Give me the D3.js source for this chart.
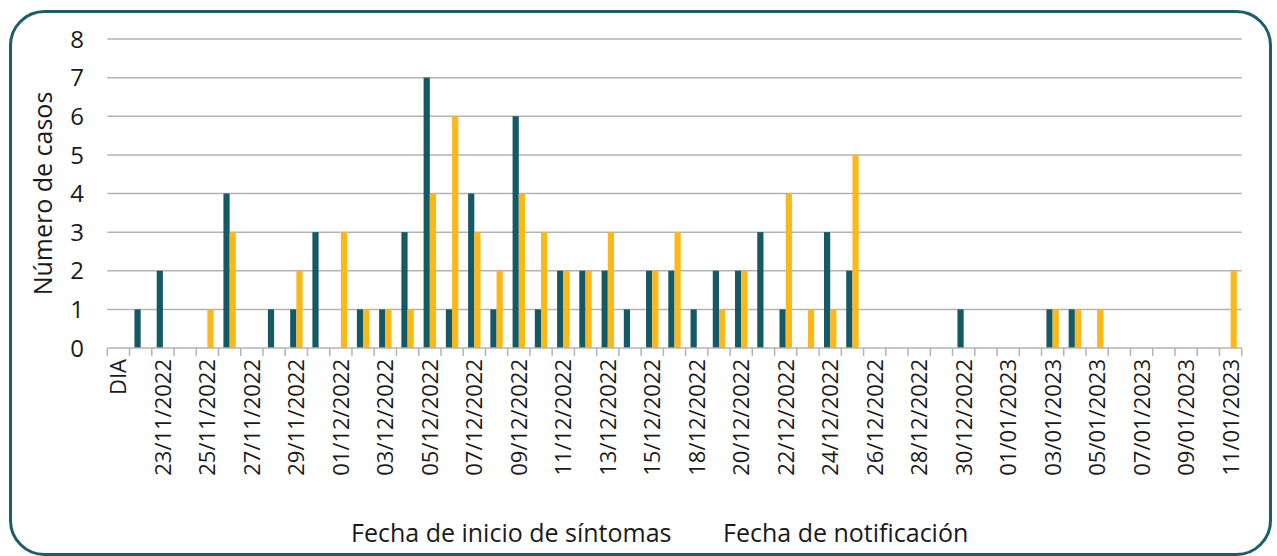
<!DOCTYPE html>
<html>
<head>
<meta charset="utf-8">
<script src="https://cdn.jsdelivr.net/npm/d3@7"></script>
<style>
  body { margin: 0; background: #fff; }
  svg { display: block; font-family: "Open Sans", sans-serif; }
</style>
</head>
<body>
<svg id="chart" width="1277" height="556"></svg>
<script>
// Categories (day of onset / notification)
var categories = ["DIA",
    "22/11/2022", "23/11/2022", "24/11/2022", "25/11/2022", "26/11/2022", "27/11/2022",
    "28/11/2022", "29/11/2022", "30/11/2022",
    "01/12/2022", "02/12/2022", "03/12/2022", "04/12/2022", "05/12/2022", "06/12/2022",
    "07/12/2022", "08/12/2022", "09/12/2022", "10/12/2022", "11/12/2022", "12/12/2022",
    "13/12/2022", "14/12/2022", "15/12/2022", "16/12/2022", "18/12/2022", "19/12/2022",
    "20/12/2022", "21/12/2022", "22/12/2022", "23/12/2022", "24/12/2022", "25/12/2022",
    "26/12/2022", "27/12/2022", "28/12/2022", "29/12/2022", "30/12/2022", "31/12/2022",
    "01/01/2023", "02/01/2023", "03/01/2023", "04/01/2023", "05/01/2023", "06/01/2023",
    "07/01/2023", "08/01/2023", "09/01/2023", "10/01/2023", "11/01/2023"];

var seriesNames = ["Fecha de inicio de síntomas", "Fecha de notificación"];

var inicioSintomas = [0,
    1, 2, 0, 0, 4, 0, 1, 1, 3,
    0, 1, 1, 3, 7, 1, 4, 1, 6, 1, 2, 2, 2, 1, 2, 2, 1, 2,
    2, 3, 1, 0, 3, 2, 0, 0, 0, 0, 1, 0,
    0, 0, 1, 1, 0, 0, 0, 0, 0, 0, 0];

var notificacion = [0,
    0, 0, 0, 1, 3, 0, 0, 2, 0,
    3, 1, 1, 1, 4, 6, 3, 2, 4, 3, 2, 2, 3, 0, 2, 3, 0, 1,
    2, 0, 4, 1, 1, 5, 0, 0, 0, 0, 0, 0,
    0, 0, 1, 1, 1, 0, 0, 0, 0, 0, 2];

var yTicks = [0, 1, 2, 3, 4, 5, 6, 7, 8];

var colors = ["#155964", "#fbb817"];

// Layout
var svg = d3.select("#chart");
var plotLeft = 107.3, plotRight = 1241.7, plotTop = 39, plotBottom = 348;

// Rounded frame
svg.append("rect")
    .attr("x", 10.5)
    .attr("y", 11.5)
    .attr("width", 1260)
    .attr("height", 543)
    .attr("rx", 34)
    .attr("fill", "none")
    .attr("stroke", "#1b5e6a")
    .attr("stroke-width", 3);

// Scales
var x = d3.scaleBand()
    .domain(categories)
    .range([plotLeft, plotRight])
    .paddingInner(0);

var x1 = d3.scaleBand()
    .domain(seriesNames)
    .range([0, x.bandwidth()])
    .paddingOuter(0.79);

var y = d3.scaleLinear()
    .domain([0, 8])
    .range([plotBottom, plotTop]);

// Gridlines
svg.append("g")
    .selectAll("line")
    .data(yTicks.filter(function (d) { return d > 0; }))
    .enter()
    .append("line")
    .attr("x1", plotLeft)
    .attr("x2", plotRight)
    .attr("y1", function (d) { return y(d); })
    .attr("y2", function (d) { return y(d); })
    .attr("stroke", "#b3b3b3")
    .attr("stroke-width", 1.5);

// Y tick labels
svg.append("g")
    .selectAll("text")
    .data(yTicks)
    .enter()
    .append("text")
    .attr("x", 84)
    .attr("y", function (d) { return y(d); })
    .attr("dy", "0.36em")
    .attr("text-anchor", "end")
    .attr("font-size", 24)
    .attr("fill", "#1a1a1a")
    .text(function (d) { return d; });

// Y axis title
svg.append("text")
    .attr("transform", "translate(52," + ((plotTop + plotBottom) / 2) + ") rotate(-90)")
    .attr("text-anchor", "middle")
    .attr("font-size", 25)
    .attr("fill", "#1a1a1a")
    .text("Número de casos");

// Bars
var rows = categories.map(function (c, i) {
    return { cat: c, values: [inicioSintomas[i], notificacion[i]] };
});

var groups = svg.append("g")
    .selectAll("g")
    .data(rows)
    .enter()
    .append("g")
    .attr("transform", function (d) { return "translate(" + x(d.cat) + ",0)"; });

groups.selectAll("rect")
    .data(function (d) {
        return d.values.map(function (v, k) { return { key: seriesNames[k], value: v, k: k }; })
            .filter(function (e) { return e.value > 0; });
    })
    .enter()
    .append("rect")
    .attr("x", function (d) { return x1(d.key); })
    .attr("width", x1.bandwidth())
    .attr("y", function (d) { return y(d.value); })
    .attr("height", function (d) { return y(0) - y(d.value); })
    .attr("fill", function (d) { return colors[d.k]; });

// X axis line and category boundary ticks
var axisG = svg.append("g");
axisG.append("line")
    .attr("x1", plotLeft)
    .attr("x2", plotRight)
    .attr("y1", plotBottom)
    .attr("y2", plotBottom)
    .attr("stroke", "#b3b3b3")
    .attr("stroke-width", 1.5);

var boundaries = categories.map(function (c) { return x(c); }).concat([x.range()[1]]);
axisG.selectAll("line.tick")
    .data(boundaries)
    .enter()
    .append("line")
    .attr("class", "tick")
    .attr("x1", function (d) { return d; })
    .attr("x2", function (d) { return d; })
    .attr("y1", plotBottom)
    .attr("y2", plotBottom + 8)
    .attr("stroke", "#b3b3b3")
    .attr("stroke-width", 1.5);

// X tick labels (every other category)
axisG.selectAll("text")
    .data(categories.filter(function (c, i) { return i % 2 === 0; }))
    .enter()
    .append("text")
    .attr("transform", function (d) {
        return "translate(" + (x(d) + x.bandwidth() / 2) + "," + (plotBottom + 11) + ") rotate(-90)";
    })
    .attr("dy", "0.36em")
    .attr("text-anchor", "end")
    .attr("font-size", 22)
    .attr("fill", "#1a1a1a")
    .text(function (d) { return d; });

// Legend (text only)
var legendX = [351, 723];
svg.append("g")
    .selectAll("text")
    .data(seriesNames)
    .enter()
    .append("text")
    .attr("x", function (d, i) { return legendX[i]; })
    .attr("y", 542)
    .attr("font-size", 25)
    .attr("fill", "#1a1a1a")
    .text(function (d) { return d; });
</script>
</body>
</html>
